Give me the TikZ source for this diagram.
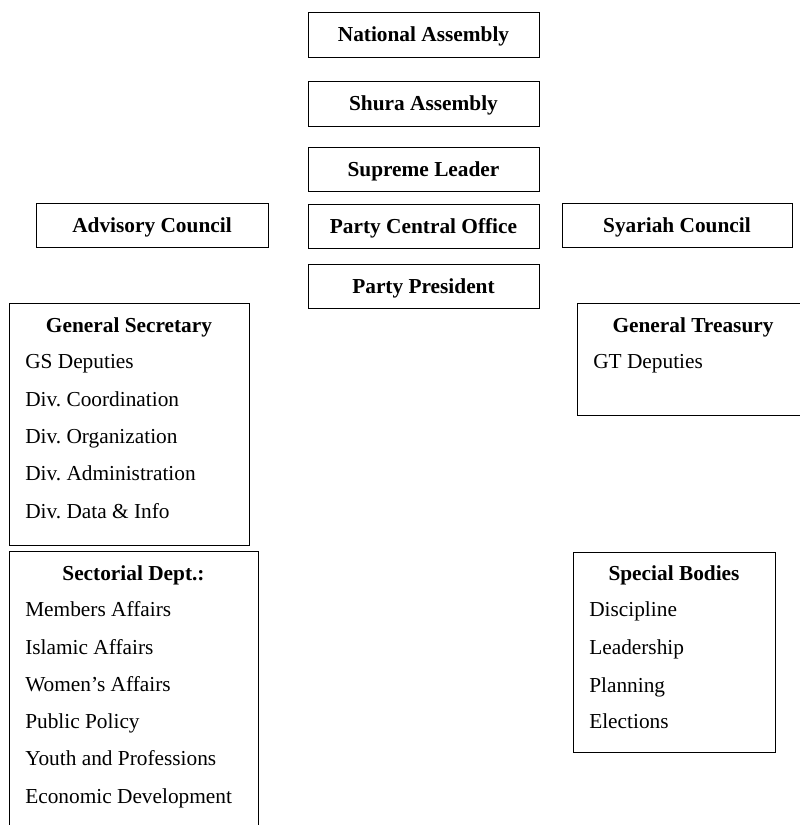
\documentclass[tikz,border=0pt]{standalone}
\usepackage{fontspec}
\setmainfont{Liberation Serif}
\begin{document}
\frenchspacing
\begin{tikzpicture}[x=0.75pt,y=-0.75pt,
  box/.style={draw, line width=0.65pt, inner sep=0pt, text height=10.6pt, text depth=0pt, font=\fontsize{16}{19}\selectfont\bfseries},
  frame/.style={draw, line width=0.65pt, inner sep=0pt},
  title/.style={inner sep=0pt, anchor=base, font=\fontsize{16}{19}\selectfont\bfseries},
  item/.style={inner sep=0pt, anchor=base west, font=\fontsize{16}{19}\selectfont}]
\useasboundingbox (0,0) rectangle (800,825);
\clip (0,0) rectangle (800,825);
% top column
\node[box, minimum width={231*0.75pt}, minimum height={45*0.75pt}] (na) at (423.5,34.5) {National Assembly};
\node[box, minimum width={231*0.75pt}, minimum height={45*0.75pt}] (sa) at (423.5,103.5) {Shura Assembly};
\node[box, minimum width={231*0.75pt}, minimum height={44*0.75pt}] (sl) at (423.5,169) {Supreme Leader};
\node[box, minimum width={231*0.75pt}, minimum height={44*0.75pt}] (pco) at (423.5,226) {Party Central Office};
\node[box, minimum width={231*0.75pt}, minimum height={44*0.75pt}] (pp) at (423.5,286) {Party President};
\node[box, minimum width={232*0.75pt}, minimum height={44*0.75pt}] (ac) at (152,225) {Advisory Council};
\node[box, minimum width={230*0.75pt}, minimum height={44*0.75pt}] (sc) at (677,225) {Syariah Council};
% General Secretary
\node[frame, minimum width={240*0.75pt}, minimum height={242*0.75pt}] (gs) at (129,424) {};
\node[title] (gst) at (129,332) {General Secretary};
\node[item] (gs1) at (25,368) {GS Deputies};
\node[item] (gs2) at (25,406) {Div. Coordination};
\node[item] (gs3) at (25,443) {Div. Organization};
\node[item] (gs4) at (25,480) {Div. Administration};
\node[item] (gs5) at (25,518) {Div. Data \& Info};
% General Treasury
\node[frame, minimum width={232*0.75pt}, minimum height={112*0.75pt}] (gt) at (693,359) {};
\node[title] (gtt) at (693,332) {General Treasury};
\node[item] (gt1) at (593,368) {GT Deputies};
% Sectorial Dept
\node[frame, minimum width={249*0.75pt}, minimum height={300*0.75pt}] (sd) at (133.5,701) {};
\node[title] (sdt) at (133.5,580) {Sectorial Dept.:};
\node[item] (sd1) at (25,616) {Members Affairs};
\node[item] (sd2) at (25,654) {Islamic Affairs};
\node[item] (sd3) at (25,691) {Women’s Affairs};
\node[item] (sd4) at (25,728) {Public Policy};
\node[item] (sd5) at (25,765) {Youth and Professions};
\node[item] (sd6) at (25,803) {Economic Development};
% Special Bodies
\node[frame, minimum width={202*0.75pt}, minimum height={200*0.75pt}] (sb) at (674,652) {};
\node[title] (sbt) at (674,580) {Special Bodies};
\node[item] (sb1) at (589,616) {Discipline};
\node[item] (sb2) at (589,654) {Leadership};
\node[item] (sb3) at (589,692) {Planning};
\node[item] (sb4) at (589,728) {Elections};
\end{tikzpicture}
\end{document}
